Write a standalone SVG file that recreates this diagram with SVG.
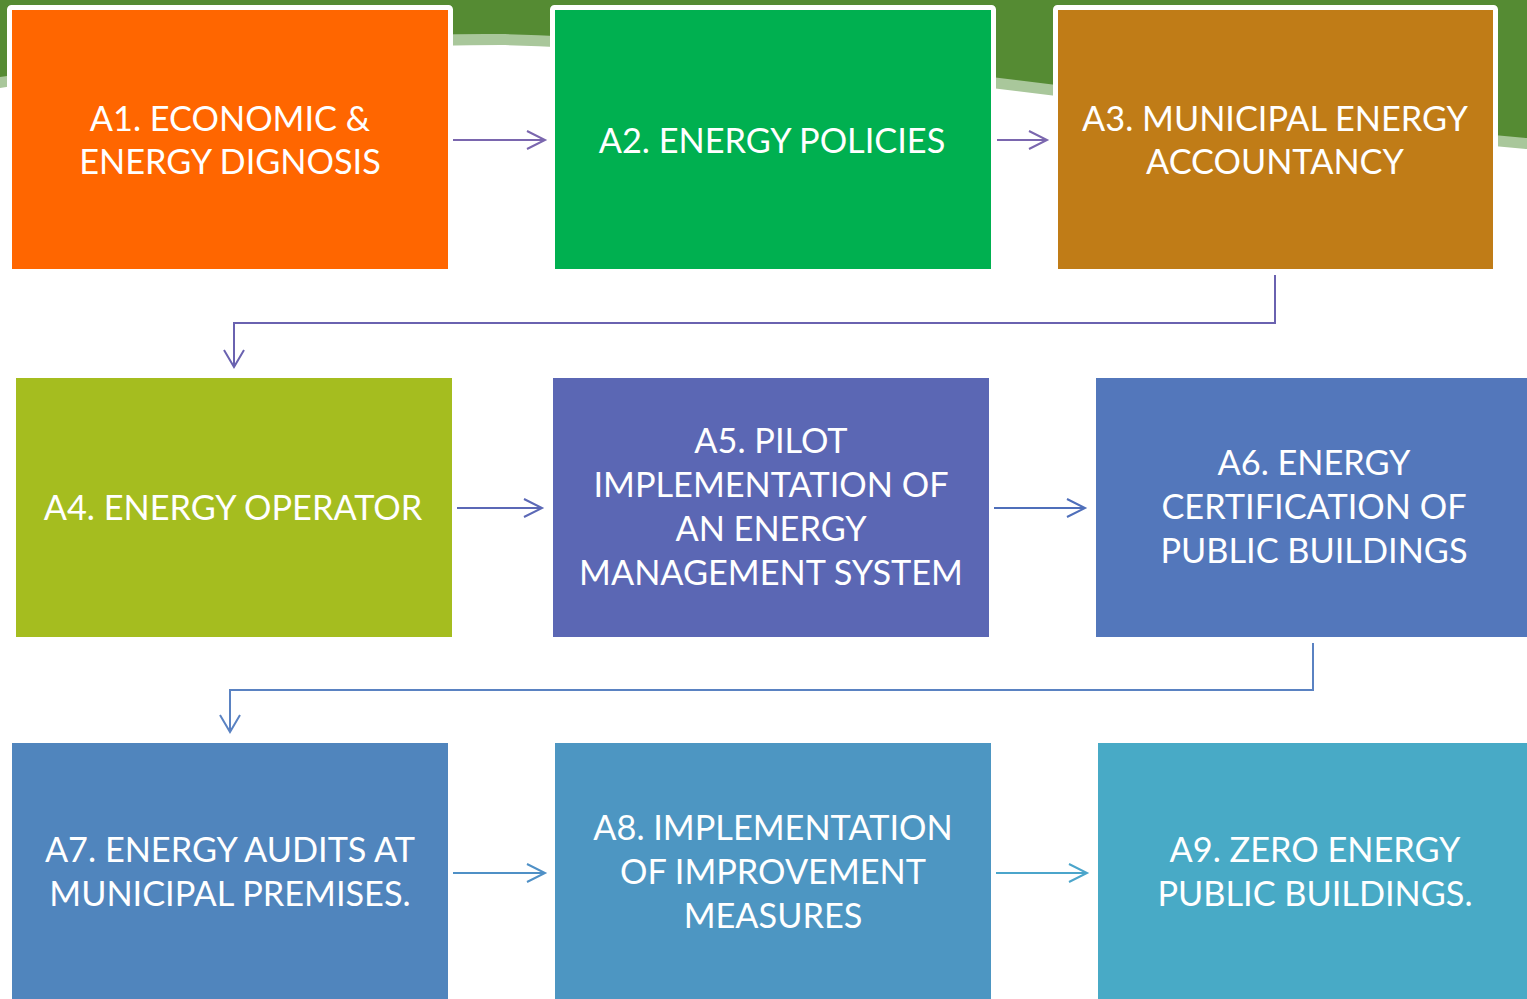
<svg xmlns="http://www.w3.org/2000/svg" width="1527" height="999" viewBox="0 0 1527 999">
<style>
.box{stroke:#ffffff;stroke-width:5}
.t{font-family:Lato,"Liberation Sans",sans-serif;font-size:34.3px;fill:#ffffff;text-anchor:middle}
.c{fill:none;stroke-width:2}
</style>
<rect width="1527" height="999" fill="#ffffff"/>
<g id="background">
<path d="M0,88 C200,58 350,45 500,45 C800,52 1150,116 1527,149 L1527,0 L0,0 Z" fill="#a9c79b"/>
<path d="M0,77 C200,46 350,33 500,34 C800,41 1150,105 1527,138 L1527,0 L0,0 Z" fill="#558b33"/>
</g>
<g id="connectors">
<path class="c" stroke="#7a66ae" d="M453,140 H545 M527,131 L545,140 L527,149"/>
<path class="c" stroke="#7a66ae" d="M997,140 H1047 M1029,131 L1047,140 L1029,149"/>
<path class="c" stroke="#6a62b0" d="M1275,275 V323 H234 V367 M224,350 L234,367 L244,350"/>
<path class="c" stroke="#5b68b6" d="M457,508 H542 M524,499 L542,508 L524,517"/>
<path class="c" stroke="#4f6fba" d="M994,508 H1085 M1067,499 L1085,508 L1067,517"/>
<path class="c" stroke="#5a82c2" d="M1313,643 V690 H230 V732 M220,715 L230,732 L240,715"/>
<path class="c" stroke="#4f90c6" d="M453,873 H545 M527,864 L545,873 L527,882"/>
<path class="c" stroke="#4ba5cb" d="M996,873 H1087 M1069,864 L1087,873 L1069,882"/>
</g>
<g id="A1"><rect class="box" x="9.5" y="7.5" width="441" height="264" rx="2" fill="#ff6600"/>
<text class="t" x="230" y="131">A1. ECONOMIC &amp;</text><text class="t" x="230" y="174">ENERGY DIGNOSIS</text></g>
<g id="A2"><rect class="box" x="552.5" y="7.5" width="441" height="264" rx="2" fill="#00b050"/>
<text class="t" x="772" y="153">A2. ENERGY POLICIES</text></g>
<g id="A3"><rect class="box" x="1055.5" y="7.5" width="440" height="264" rx="2" fill="#c07c17"/>
<text class="t" x="1275" y="131">A3. MUNICIPAL ENERGY</text><text class="t" x="1275" y="174">ACCOUNTANCY</text></g>
<g id="A4"><rect class="box" x="13.5" y="375.5" width="441" height="264" fill="#a5bd1f"/>
<text class="t" x="233" y="520">A4. ENERGY OPERATOR</text></g>
<g id="A5"><rect class="box" x="550.5" y="375.5" width="441" height="264" fill="#5b67b4"/>
<text class="t" x="771" y="453">A5. PILOT</text><text class="t" x="771" y="497">IMPLEMENTATION OF</text><text class="t" x="771" y="541">AN ENERGY</text><text class="t" x="771" y="585">MANAGEMENT SYSTEM</text></g>
<g id="A6"><rect class="box" x="1093.5" y="375.5" width="441" height="264" fill="#5377bb"/>
<text class="t" x="1314" y="475">A6. ENERGY</text><text class="t" x="1314" y="519">CERTIFICATION OF</text><text class="t" x="1314" y="563">PUBLIC BUILDINGS</text></g>
<g id="A7"><rect class="box" x="9.5" y="740.5" width="441" height="264" fill="#5085bd"/>
<text class="t" x="230" y="862">A7. ENERGY AUDITS AT</text><text class="t" x="230" y="906">MUNICIPAL PREMISES.</text></g>
<g id="A8"><rect class="box" x="552.5" y="740.5" width="441" height="264" fill="#4d96c2"/>
<text class="t" x="773" y="840">A8. IMPLEMENTATION</text><text class="t" x="773" y="884">OF IMPROVEMENT</text><text class="t" x="773" y="928">MEASURES</text></g>
<g id="A9"><rect class="box" x="1095.5" y="740.5" width="441" height="264" fill="#48aac6"/>
<text class="t" x="1315" y="862">A9. ZERO ENERGY</text><text class="t" x="1315" y="906">PUBLIC BUILDINGS.</text></g>
</svg>
